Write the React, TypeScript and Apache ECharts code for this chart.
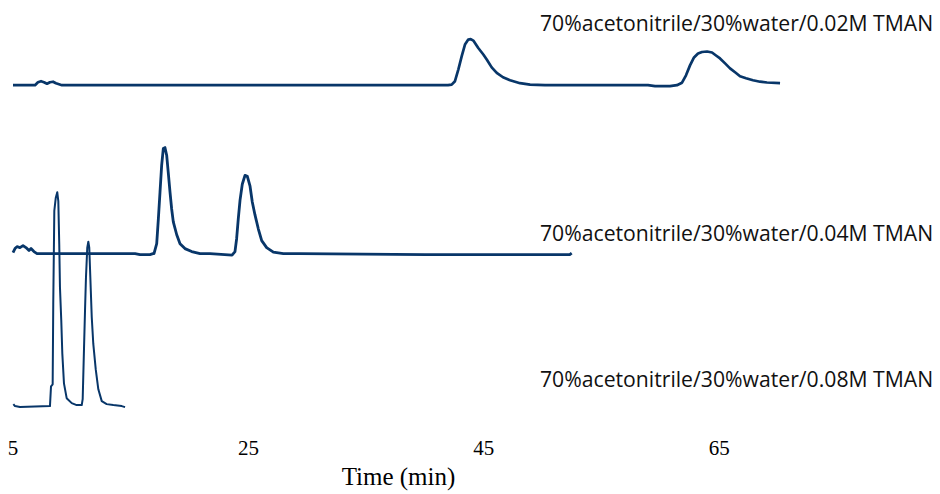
import React, { useEffect, useRef } from "react";
import * as echarts from "echarts";

// Retention time (min) and detector response (relative units) for each run.
const run002: [number, number][] = [
  [5.0, 0], [6.87, 0], [7.12, 3], [7.38, 4], [7.63, 3], [7.89, 1.5], [8.14, 3], [8.4, 3.5],
  [8.65, 2], [8.91, 1], [9.16, 0], [41.96, 0], [42.27, 0.5], [42.55, 4], [42.84, 16],
  [43.12, 29], [43.4, 41], [43.68, 46], [43.89, 46.5], [44.11, 45], [44.53, 37.5],
  [44.96, 31], [45.25, 26], [45.67, 18], [46.1, 12.5], [46.63, 8], [47.23, 5], [48.08, 2],
  [48.93, 0.5], [50.2, 0], [58.95, 0], [59.55, -1], [60.82, -1], [61.41, 0], [61.84, 2.5],
  [62.18, 10], [62.52, 20], [62.86, 28], [63.2, 32], [63.54, 33.5], [63.97, 34], [64.39, 33],
  [64.73, 30], [65.07, 27], [65.5, 22], [65.92, 17], [66.35, 13], [66.77, 9], [67.28, 7],
  [67.87, 5], [68.47, 3.5], [69.06, 2.7], [70.17, 2],
];

const run004: [number, number][] = [
  [5.0, 1], [5.17, 5], [5.34, 7], [5.59, 6], [5.85, 8], [6.1, 6], [6.36, 3], [6.53, 5],
  [6.78, 2], [7.04, 0], [15.37, 0], [15.79, -1], [16.64, -1], [16.89, 0], [16.98, 0],
  [17.21, 10], [17.35, 35], [17.49, 62], [17.63, 89], [17.77, 106], [17.91, 107],
  [18.06, 99], [18.19, 82], [18.34, 62], [18.48, 45], [18.62, 32], [18.91, 19], [19.19, 10],
  [19.61, 5], [20.18, 2], [20.89, 0], [21.74, 0], [23.61, -1.5], [23.86, 2], [24.0, 15],
  [24.14, 35], [24.29, 54], [24.48, 70], [24.71, 79], [24.91, 78], [25.14, 68], [25.33, 52],
  [25.56, 39], [25.84, 25], [26.13, 13], [26.55, 6], [27.12, 1.5], [27.97, 0], [29.38, 0],
  [40.0, -1], [52.3, -1], [52.47, 0.5],
];

const run008: [number, number][] = [
  [5.03, 2], [5.17, 0], [5.59, -1], [8.14, 0], [8.23, 20], [8.37, 22], [8.42, 103],
  [8.51, 197], [8.63, 210], [8.76, 216], [8.85, 207], [8.93, 163], [8.99, 120], [9.1, 87],
  [9.19, 53], [9.33, 23], [9.56, 8], [9.99, 3], [10.41, 1], [10.84, 1], [10.92, 7],
  [11.03, 57], [11.12, 97], [11.2, 130], [11.31, 160], [11.4, 166], [11.48, 160],
  [11.57, 130], [11.69, 90], [11.82, 63], [12.03, 37], [12.25, 17], [12.54, 5], [12.96, 2],
  [13.52, 1], [14.24, 0], [14.52, -1],
];

const runNames = [
  "70%acetonitrile/30%water/0.02M TMAN",
  "70%acetonitrile/30%water/0.04M TMAN",
  "70%acetonitrile/30%water/0.08M TMAN",
];
const runs = [run002, run004, run008];
// Vertical offsets that stack the chromatograms above one another.
const runOffsets = [334, 164, 10];
const runLabelY = [22, 232, 378];
const runWidths = [2.7, 2.8, 2];

const timeTicks = [5, 25, 45, 65];

const LINE = "#083669";
const PX_PER_MIN = 11.77;
const T_MIN = 5;
const T_MAX = 70.5;

export default function App() {
  const ref = useRef<HTMLDivElement>(null);

  useEffect(() => {
    if (!ref.current) return;
    const chart = echarts.init(ref.current, undefined, { renderer: "svg" });
    chart.setOption({
      animation: false,
      backgroundColor: "#ffffff",
      grid: { left: 13, top: 0, width: (T_MAX - T_MIN) * PX_PER_MIN, height: 420 },
      xAxis: {
        type: "value",
        min: T_MIN,
        max: T_MAX,
        name: "Time (min)",
        nameLocation: "middle",
        nameGap: 48,
        nameTextStyle: { fontFamily: "Liberation Serif", fontSize: 25, color: "#000" },
        axisLine: { show: false },
        axisTick: { show: false },
        splitLine: { show: false },
        axisLabel: {
          customValues: timeTicks,
          fontFamily: "Liberation Serif",
          fontSize: 21,
          color: "#000",
          margin: 21,
        },
      },
      yAxis: { type: "value", min: 0, max: 420, show: false },
      series: runs.map((run, i) => ({
        name: runNames[i],
        type: "line",
        showSymbol: false,
        silent: true,
        clip: false,
        data: run.map(([t, h]) => [t, h + runOffsets[i]]),
        lineStyle: { color: LINE, width: runWidths[i], join: "round" },
      })),
      graphic: runNames.map((name, i) => ({
        type: "text",
        x: 540,
        y: runLabelY[i],
        style: {
          text: name,
          fontFamily: "Open Sans",
          fontSize: 21.2,
          fill: "#111",
          verticalAlign: "middle",
        },
      })),
    });
    return () => chart.dispose();
  }, []);

  return (
    <div
      ref={ref}
      style={{ position: "absolute", left: 0, top: 0, width: 940, height: 494 }}
    />
  );
}
